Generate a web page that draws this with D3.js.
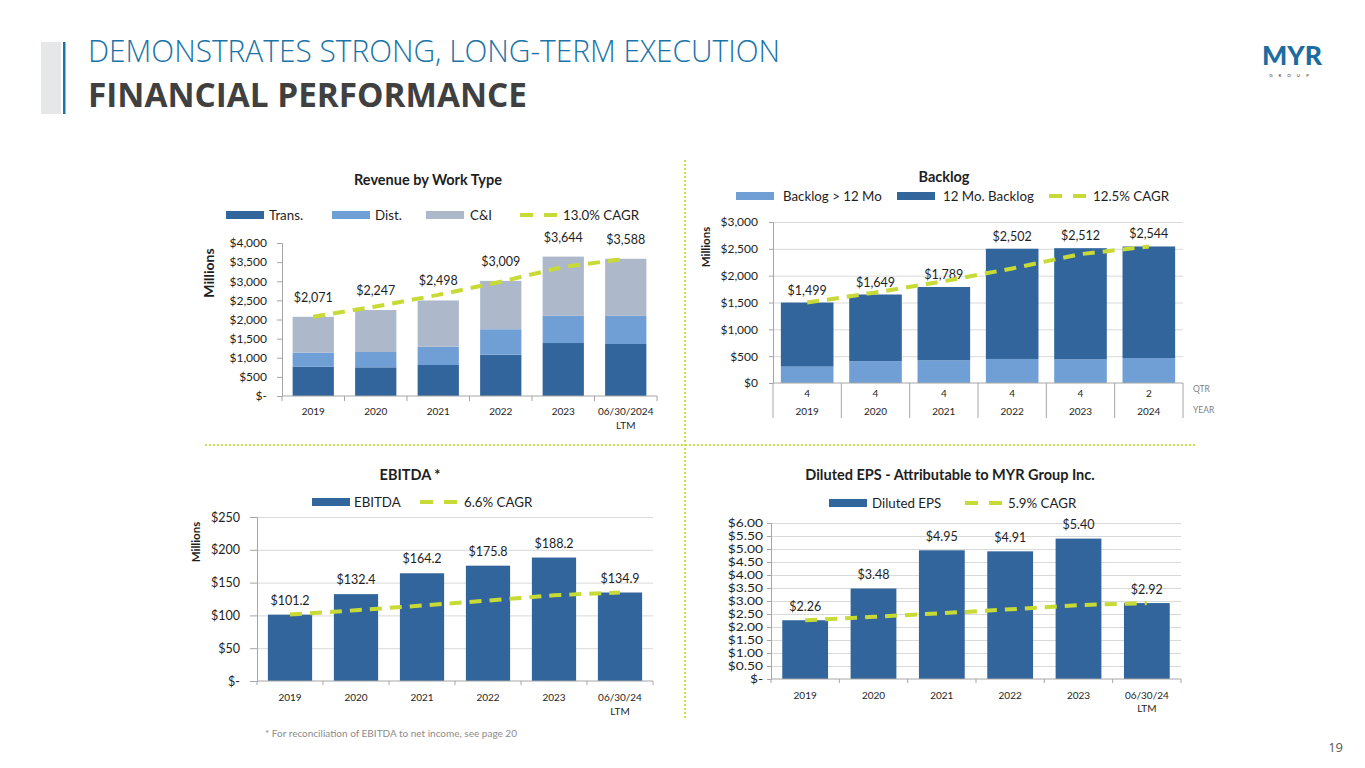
<!DOCTYPE html>
<html>
<head>
<meta charset="utf-8">
<script src="https://cdn.jsdelivr.net/npm/d3@7"></script>
<style>
  body { margin: 0; background: #fff; }
  svg { display: block; font-family: Lato, "Open Sans", sans-serif; }
</style>
</head>
<body>
<script>
// ---- data ----
const revCats = ["2019", "2020", "2021", "2022", "2023", "06/30/2024|LTM"];
const revTrans = [770, 750, 810, 1080, 1385, 1360];
const revDist = [365, 400, 480, 665, 710, 735];
const revCI = [936, 1097, 1208, 1264, 1549, 1493];
const revTotal = [2071, 2247, 2498, 3009, 3644, 3588];
const revCagr = [2071, 2340, 2644, 2988, 3376, 3588];
const revTicks = [0, 500, 1000, 1500, 2000, 2500, 3000, 3500, 4000];

const blQtr = ["4", "4", "4", "4", "4", "2"];
const blYears = ["2019", "2020", "2021", "2022", "2023", "2024"];
const blLong = [306, 405, 424, 448, 442, 466];
const blTwelve = [1193, 1244, 1365, 2054, 2070, 2078];
const blTotal = [1499, 1649, 1789, 2502, 2512, 2544];
const blCagr = [1499, 1686, 1897, 2134, 2401, 2544];
const blTicks = [0, 500, 1000, 1500, 2000, 2500, 3000];

const ebCats = ["2019", "2020", "2021", "2022", "2023", "06/30/24|LTM"];
const ebValues = [101.2, 132.4, 164.2, 175.8, 188.2, 134.9];
const ebCagr = [101.2, 107.9, 115.0, 122.6, 130.7, 134.9];
const ebTicks = [0, 50, 100, 150, 200, 250];

const epsCats = ["2019", "2020", "2021", "2022", "2023", "06/30/24|LTM"];
const epsValues = [2.26, 3.48, 4.95, 4.91, 5.40, 2.92];
const epsCagr = [2.26, 2.39, 2.53, 2.68, 2.84, 2.92];
const epsTicks = [0, 0.5, 1, 1.5, 2, 2.5, 3, 3.5, 4, 4.5, 5, 5.5, 6];

// ---- colours ----
const DARK = "#31659c", LIGHT = "#6f9fd4", GREYBLUE = "#adb8ca";
const CAGR = "#c8da35", AXIS = "#a6a6a6", GRID = "#d9d9d9", TXT = "#1e1e1e";

const svg = d3.select("body").append("svg")
  .attr("width", 1365).attr("height", 768);

// ---- header ----
svg.append("rect").attr("x", 41).attr("y", 42).attr("width", 20).attr("height", 72).attr("fill", "#e6e7e8");
svg.append("rect").attr("x", 63).attr("y", 42).attr("width", 2.5).attr("height", 72).attr("fill", "#1a74a8");
svg.append("text").attr("x", 88).attr("y", 62)
  .attr("font-family", "Open Sans").attr("font-weight", 300).attr("font-size", 31)
  .attr("fill", "#1a74a8").attr("textLength", 692).attr("lengthAdjust", "spacingAndGlyphs")
  .text("DEMONSTRATES STRONG, LONG-TERM EXECUTION");
svg.append("text").attr("x", 88).attr("y", 107)
  .attr("font-family", "Open Sans").attr("font-weight", 700).attr("font-size", 34)
  .attr("fill", "#404040").attr("textLength", 439).attr("lengthAdjust", "spacingAndGlyphs")
  .text("FINANCIAL PERFORMANCE");

// logo
svg.append("text").attr("x", 1262).attr("y", 65)
  .attr("font-family", "Lato").attr("font-weight", 900).attr("font-size", 27)
  .attr("fill", "#1d6c9f").attr("textLength", 60).attr("lengthAdjust", "spacingAndGlyphs")
  .text("MYR");
svg.append("text").attr("x", 1292).attr("y", 77).attr("text-anchor", "middle")
  .attr("font-size", 4.5).attr("fill", "#333").attr("letter-spacing", 6)
  .text("GROUP");

// page number + footnote
svg.append("text").attr("x", 1343).attr("y", 752).attr("text-anchor", "end")
  .attr("font-family", "Open Sans").attr("font-size", 13).attr("fill", "#595959").text("19");
svg.append("text").attr("x", 265).attr("y", 737)
  .attr("font-size", 10).attr("fill", "#8c8c8c")
  .text("* For reconciliation of EBITDA to net income, see page 20");

// dotted separators
svg.append("line").attr("x1", 685).attr("x2", 685).attr("y1", 160).attr("y2", 718)
  .attr("stroke", "#cddc55").attr("stroke-width", 2).attr("stroke-dasharray", "2,2");
svg.append("line").attr("x1", 205).attr("x2", 1197).attr("y1", 445).attr("y2", 445)
  .attr("stroke", "#cddc55").attr("stroke-width", 2).attr("stroke-dasharray", "2,2");

// ---- generic bar chart ----
function barChart(cfg) {
  const g = svg.append("g");
  const x = d3.scaleBand().domain(cfg.cats).range([cfg.x0, cfg.x1])
    .paddingInner(cfg.pad).paddingOuter(cfg.pad / 2);
  const y = d3.scaleLinear().domain([0, d3.max(cfg.ticks)]).range([cfg.yb, cfg.yt]);

  if (cfg.grid) {
    g.append("g").attr("transform", `translate(${cfg.x0},0)`)
      .call(d3.axisLeft(y).tickValues(cfg.ticks.slice(1)).tickSize(-(cfg.x1 - cfg.x0)).tickFormat(""))
      .call(a => a.select(".domain").remove())
      .call(a => a.selectAll("line").attr("stroke", GRID));
  }

  const rows = cfg.cats.map((c, i) => {
    const r = { cat: c };
    cfg.series.forEach(s => r[s.key] = s.values[i]);
    return r;
  });
  const stack = d3.stack().keys(cfg.series.map(s => s.key))(rows);
  g.selectAll("g.layer").data(stack).join("g")
    .attr("fill", (d, i) => cfg.series[i].color)
    .selectAll("rect").data(d => d).join("rect")
    .attr("x", d => x(d.data.cat))
    .attr("width", x.bandwidth())
    .attr("y", d => y(d[1]))
    .attr("height", d => y(d[0]) - y(d[1]));

  // y axis
  const ya = g.append("g").attr("transform", `translate(${cfg.x0},0)`)
    .call(d3.axisLeft(y).tickValues(cfg.ticks).tickSize(cfg.yTick).tickPadding(cfg.yPad).tickFormat(cfg.fmt));
  ya.select(".domain").attr("stroke", AXIS);
  ya.selectAll("line").attr("stroke", AXIS);
  ya.selectAll("text").attr("font-size", cfg.tickSize).attr("fill", TXT).attr("font-family", "Lato");
  if (cfg.tickStretch) {
    // tight tick spacing: small type, widened to the reference's label width
    ya.selectAll("text").each(function () {
      const w = this.getComputedTextLength();
      d3.select(this).attr("textLength", w * cfg.tickStretch).attr("lengthAdjust", "spacingAndGlyphs");
    });
  }

  // x axis baseline
  g.append("line").attr("x1", cfg.x0).attr("x2", cfg.x1)
    .attr("y1", cfg.yb).attr("y2", cfg.yb).attr("stroke", AXIS);
  const gap = (x.step() - x.bandwidth()) / 2;
  const bounds = cfg.cats.map(c => x(c) - gap).concat([cfg.x1]);
  g.selectAll("line.sep").data(bounds).join("line").attr("class", "sep")
    .attr("x1", d => d).attr("x2", d => d)
    .attr("y1", cfg.yb).attr("y2", cfg.yb + cfg.xTick)
    .attr("stroke", AXIS);

  // category labels
  cfg.catRows.forEach((row, ri) => {
    g.selectAll(null).data(cfg.cats).join("text")
      .attr("x", d => x(d) + x.bandwidth() / 2)
      .attr("y", cfg.catY[ri])
      .attr("text-anchor", "middle").attr("font-size", 10).attr("fill", TXT)
      .text((d, i) => row[i]);
  });

  // totals
  g.selectAll(null).data(cfg.totals).join("text")
    .attr("x", (d, i) => x(cfg.cats[i]) + x.bandwidth() / 2)
    .attr("y", d => y(d) - cfg.labelGap)
    .attr("text-anchor", "middle").attr("font-size", 12.5).attr("fill", TXT)
    .text(cfg.labelFmt);

  // CAGR line
  g.append("path").datum(cfg.cagr)
    .attr("fill", "none").attr("stroke", CAGR).attr("stroke-width", 4)
    .attr("stroke-dasharray", "12,8")
    .attr("d", d3.line().x((d, i) => x(cfg.cats[i]) + x.bandwidth() / 2).y(d => y(d)));

  // title
  g.append("text").attr("x", cfg.title[1]).attr("y", cfg.title[2])
    .attr("text-anchor", "middle").attr("font-size", 14.5).attr("font-weight", 700).attr("fill", TXT)
    .text(cfg.title[0]);

  // legend
  cfg.legend.forEach(l => {
    if (l.dash) {
      g.append("line").attr("x1", l.x).attr("x2", l.x + 37).attr("y1", cfg.legY).attr("y2", cfg.legY)
        .attr("stroke", CAGR).attr("stroke-width", 4).attr("stroke-dasharray", "13,11");
    } else {
      g.append("rect").attr("x", l.x).attr("y", cfg.legY - 4).attr("width", 38).attr("height", 8)
        .attr("fill", l.color);
    }
    g.append("text").attr("x", l.tx).attr("y", cfg.legY + 4.5)
      .attr("font-size", 13.3).attr("fill", TXT).text(l.label);
  });

  if (cfg.millions) {
    const [mx, my, ms] = cfg.millions;
    g.append("text").attr("transform", `translate(${mx},${my}) rotate(-90)`)
      .attr("text-anchor", "middle").attr("dominant-baseline", "middle")
      .attr("font-size", ms).attr("font-weight", 700).attr("fill", TXT).text("Millions");
  }
  return { g, x, y };
}

const dollars = v => v === 0 ? "$-" : "$" + d3.format(",")(v);

// Revenue by Work Type
barChart({
  cats: revCats, x0: 282, x1: 657, yt: 243, yb: 396, pad: 0.34, ticks: revTicks,
  grid: false, yTick: 5, yPad: 10, xTick: 5, tickSize: 12, fmt: dollars,
  series: [
    { key: "Trans.", values: revTrans, color: DARK },
    { key: "Dist.", values: revDist, color: LIGHT },
    { key: "C&I", values: revCI, color: GREYBLUE }
  ],
  catRows: [revCats.map(c => c.split("|")[0]), revCats.map(c => c.split("|")[1] || "")],
  catY: [415, 429],
  totals: revTotal, labelGap: 15, labelFmt: d => "$" + d3.format(",")(d),
  cagr: revCagr,
  title: ["Revenue by Work Type", 428, 185],
  legY: 215,
  legend: [
    { x: 226, tx: 269, color: DARK, label: "Trans." },
    { x: 332, tx: 375, color: LIGHT, label: "Dist." },
    { x: 426, tx: 470, color: GREYBLUE, label: "C&I" },
    { x: 520, tx: 563, dash: true, label: "13.0% CAGR" }
  ],
  millions: [210, 273, 14]
});

// Backlog
const bl = barChart({
  cats: blYears, x0: 773, x1: 1183, yt: 222, yb: 383, pad: 0.23, ticks: blTicks,
  grid: true, yTick: 4, yPad: 11, xTick: 35, tickSize: 12,
  fmt: v => v === 0 ? "$0" : "$" + d3.format(",")(v),
  series: [
    { key: "Backlog > 12 Mo", values: blLong, color: LIGHT },
    { key: "12 Mo. Backlog", values: blTwelve, color: DARK }
  ],
  catRows: [blQtr, blYears],
  catY: [397, 414.5],
  totals: blTotal, labelGap: 8, labelFmt: d => "$" + d3.format(",")(d),
  cagr: blCagr,
  title: ["Backlog", 944, 182],
  legY: 196,
  legend: [
    { x: 736, tx: 783, color: LIGHT, label: "Backlog > 12 Mo" },
    { x: 897, tx: 943, color: DARK, label: "12 Mo. Backlog" },
    { x: 1049, tx: 1093, dash: true, label: "12.5% CAGR" }
  ],
  millions: [707, 247, 11.5]
});
bl.g.append("text").attr("x", 1193).attr("y", 392).attr("font-size", 8.5).attr("fill", "#7f7f7f").text("QTR");
bl.g.append("text").attr("x", 1193).attr("y", 413).attr("font-size", 8.5).attr("fill", "#7f7f7f").text("YEAR");

// EBITDA
barChart({
  cats: ebCats, x0: 257, x1: 653, yt: 517, yb: 681, pad: 0.33, ticks: ebTicks,
  grid: true, yTick: 7, yPad: 10, xTick: 4, tickSize: 12.5, fmt: dollars,
  series: [{ key: "EBITDA", values: ebValues, color: DARK }],
  catRows: [ebCats.map(c => c.split("|")[0]), ebCats.map(c => c.split("|")[1] || "")],
  catY: [700.5, 715],
  totals: ebValues, labelGap: 10, labelFmt: d => "$" + d3.format(".1f")(d),
  cagr: ebCagr,
  title: ["EBITDA *", 410, 480],
  legY: 502,
  legend: [
    { x: 312, tx: 354, color: DARK, label: "EBITDA" },
    { x: 420, tx: 464, dash: true, label: "6.6% CAGR" }
  ],
  millions: [197, 542, 11.5]
});

// Diluted EPS
barChart({
  cats: epsCats, x0: 771, x1: 1181, yt: 523, yb: 679, pad: 0.33, ticks: epsTicks,
  grid: true, yTick: 4, yPad: 4, xTick: 4, tickSize: 10.6, tickStretch: 1.3,
  fmt: v => v === 0 ? "$-" : "$" + d3.format(".2f")(v),
  series: [{ key: "Diluted EPS", values: epsValues, color: DARK }],
  catRows: [epsCats.map(c => c.split("|")[0]), epsCats.map(c => c.split("|")[1] || "")],
  catY: [698.5, 712],
  totals: epsValues, labelGap: 9.5, labelFmt: d => "$" + d3.format(".2f")(d),
  cagr: epsCagr,
  title: ["Diluted EPS - Attributable to MYR Group Inc.", 950, 480],
  legY: 503,
  legend: [
    { x: 829, tx: 872, color: DARK, label: "Diluted EPS" },
    { x: 965, tx: 1008, dash: true, label: "5.9% CAGR" }
  ]
});
</script>
</body>
</html>
